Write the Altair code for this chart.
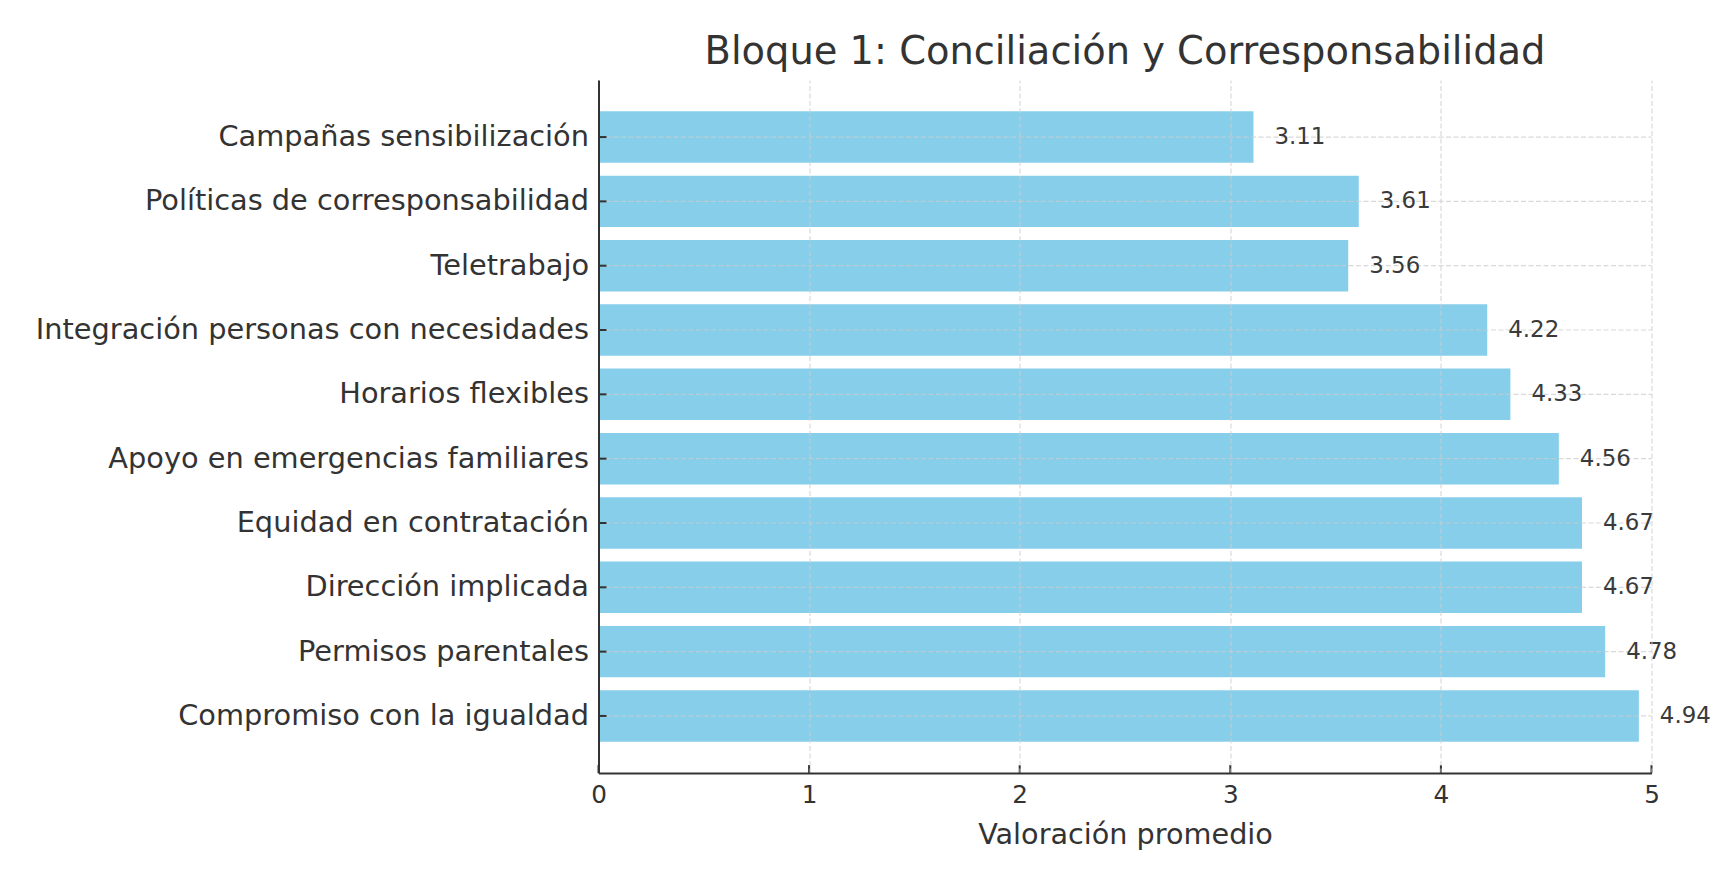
import altair as alt
import pandas as pd

categories = [
    "Campañas sensibilización",
    "Políticas de corresponsabilidad",
    "Teletrabajo",
    "Integración personas con necesidades",
    "Horarios flexibles",
    "Apoyo en emergencias familiares",
    "Equidad en contratación",
    "Dirección implicada",
    "Permisos parentales",
    "Compromiso con la igualdad",
]
values = [3.11, 3.61, 3.56, 4.22, 4.33, 4.56, 4.67, 4.67, 4.78, 4.94]
x_ticks = [0, 1, 2, 3, 4, 5]

df = pd.DataFrame({"item": categories, "valor": values,
                   "label": [f"{v:.2f}" for v in values]})
ticks_df = pd.DataFrame({"valor": x_ticks})
cat_df = pd.DataFrame({"item": categories})

W, H = 1053, 693
FONT = "DejaVu Sans"
DARK = "#333333"
GRID = "#cccccc"
GRID_OP = 0.75
DASH = [5, 2.5]

y_enc = alt.Y(
    "item:N", sort=categories,
    scale=alt.Scale(paddingInner=0.2, paddingOuter=0.487),
    axis=alt.Axis(title=None, labelFontSize=28.8, labelLimit=1000, labelPadding=10,
                  labelColor=DARK, labelFont=FONT, ticks=False, domainColor=DARK,
                  domainWidth=2, grid=False, zindex=1),
)
x_enc = alt.X(
    "valor:Q",
    scale=alt.Scale(domain=[0, 5], nice=False, zero=True),
    axis=alt.Axis(values=x_ticks, format="d", title="Valoración promedio",
                  titleFontSize=28.7, titleFontWeight="normal", titleColor=DARK,
                  titleFont=FONT, titleY=70, titleBaseline="alphabetic",
                  labelFontSize=24.7, labelPadding=9.5, labelColor=DARK, labelFont=FONT,
                  labelFlush=False, ticks=False, domainColor=DARK, domainWidth=2, zindex=1,
                  grid=True, gridDash=DASH, gridColor=GRID, gridOpacity=GRID_OP,
                  gridWidth=1.2),
)

bars = alt.Chart(df).mark_bar(color="#87CEEB").encode(x=x_enc, y=y_enc)
ygrid = alt.Chart(cat_df).mark_rule(
    color=GRID, opacity=GRID_OP, strokeWidth=1.2, strokeDash=DASH
).encode(y=y_enc, x=alt.value(0), x2=alt.value(W))
text = alt.Chart(df).mark_text(
    align="left", baseline="middle", dx=21, fontSize=22.9, color="#3a3a3a", font=FONT
).encode(x=x_enc, y=y_enc, text="label:N")
xt = alt.Chart(ticks_df).mark_rule(color=DARK, strokeWidth=2).encode(
    x=x_enc, y=alt.value(H - 8), y2=alt.value(H))
yt = alt.Chart(cat_df).mark_rule(color=DARK, strokeWidth=2).encode(
    y=y_enc, x=alt.value(0), x2=alt.value(8))

chart = alt.layer(bars, ygrid, text, xt, yt).properties(
    width=W, height=H,
    title=alt.TitleParams(text="Bloque 1: Conciliación y Corresponsabilidad",
                          fontSize=38.4, fontWeight="normal", color=DARK, font=FONT,
                          anchor="middle", frame="group", baseline="alphabetic",
                          offset=14, dy=36),
    autosize=alt.AutoSizeParams(type="none"),
    padding={"left": 590.5, "top": 72, "right": 59, "bottom": 85},
).configure(font=FONT).configure_view(strokeWidth=0, stroke="transparent")

chart.save("out.html", embed_options={"renderer": "svg", "actions": False})
